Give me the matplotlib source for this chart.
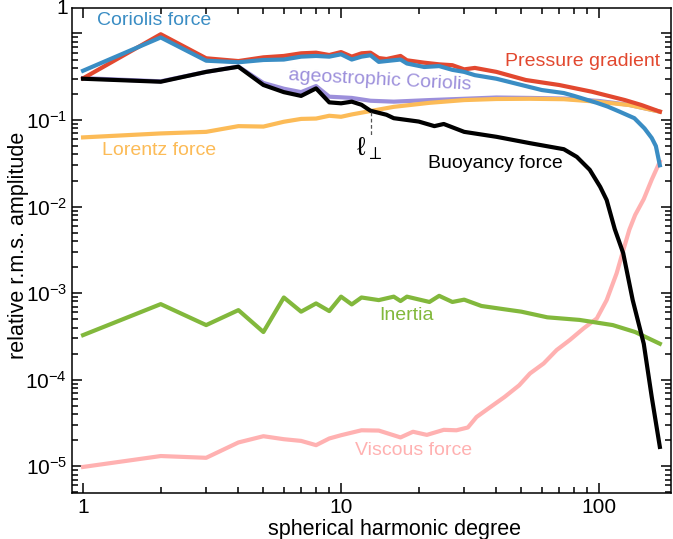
import matplotlib
matplotlib.use("Agg")
import matplotlib.pyplot as plt
from matplotlib.ticker import LogLocator, NullFormatter, FixedLocator

plt.rcParams['font.family'] = ['Liberation Sans', 'DejaVu Sans']
plt.rcParams['mathtext.default'] = 'regular'

# values (spherical harmonic degree l, relative r.m.s. amplitude)
coriolis_l = [1, 2, 3, 4, 5, 6, 7, 8, 9, 10, 11, 12, 13, 14, 17, 18, 21, 24, 27, 30, 33, 40,
              54, 60, 73, 80, 98, 108, 120, 137, 150, 160, 166, 172]
coriolis = [0.371, 0.90, 0.485, 0.465, 0.494, 0.50, 0.54, 0.55, 0.54, 0.575, 0.50, 0.54, 0.56,
            0.47, 0.50, 0.45, 0.41, 0.42, 0.38, 0.36, 0.33, 0.30,
            0.24, 0.222, 0.205, 0.19, 0.158, 0.143, 0.125, 0.105, 0.08, 0.062, 0.05, 0.030]

pressure_l = [1, 2, 3, 4, 5, 6, 7, 8, 9, 10, 11, 12, 13, 14, 15, 17, 18, 21, 24, 27, 30, 33, 40,
              52, 70, 94, 126, 146, 172]
pressure = [0.303, 0.98, 0.517, 0.48, 0.53, 0.55, 0.59, 0.60, 0.564, 0.61, 0.54, 0.59, 0.60,
            0.52, 0.507, 0.55, 0.49, 0.46, 0.44, 0.43, 0.385, 0.40, 0.36,
            0.29, 0.254, 0.212, 0.17, 0.149, 0.125]

ageo_l = [1, 2, 3, 4, 5, 6, 7, 8, 9, 10, 11, 13, 16, 22, 30, 40, 54, 73, 100, 130, 172]
ageo = [0.305, 0.28, 0.36, 0.415, 0.268, 0.23, 0.21, 0.247, 0.186, 0.183, 0.18, 0.167, 0.163,
        0.17, 0.176, 0.182, 0.18, 0.177, 0.166, 0.15, 0.125]

lorentz_l = [1, 2, 3, 4, 5, 6, 7, 8, 9, 10, 11, 13, 16, 22, 30, 40, 54, 73, 98, 131, 172]
lorentz = [0.063, 0.070, 0.073, 0.085, 0.084, 0.0955, 0.103, 0.104, 0.112, 0.109, 0.116, 0.127,
           0.142, 0.158, 0.17, 0.175, 0.176, 0.174, 0.163, 0.149, 0.125]

buoy_l = [1, 2, 3, 4, 5, 6, 7, 8, 9, 10, 11, 12, 13, 15, 16, 20, 23, 25, 30, 40, 54, 73, 82, 92,
          101, 107, 115, 124, 135, 149, 160, 172]
buoy = [0.30, 0.277, 0.36, 0.413, 0.254, 0.21, 0.19, 0.232, 0.16, 0.156, 0.163, 0.15, 0.128,
        0.115, 0.105, 0.096, 0.085, 0.09, 0.073, 0.064, 0.054, 0.046, 0.0375, 0.0266,
        0.0169, 0.0119, 5.5e-3, 2.9e-3, 8.3e-4, 2.6e-4, 6.3e-5, 1.67e-5]

inertia_l = [1, 2, 3, 4, 5, 6, 7, 8, 9, 10, 11, 12, 14, 16, 17, 18, 22, 24, 27, 30, 35, 43, 50,
             63, 84, 113, 138, 172]
inertia = [3.27e-4, 7.46e-4, 4.27e-4, 6.36e-4, 3.55e-4, 8.9e-4, 6.1e-4, 7.6e-4, 6.2e-4, 9.1e-4,
           7.4e-4, 8.9e-4, 8.3e-4, 9.1e-4, 8.1e-4, 9.1e-4, 7.9e-4, 9.3e-4, 7.9e-4, 8.4e-4,
           7.1e-4, 6.5e-4, 6.1e-4, 5.25e-4, 4.9e-4, 4.27e-4, 3.55e-4, 2.6e-4]

viscous_l = [1, 2, 3, 4, 5, 6, 7, 8, 9, 10, 12, 14, 17, 19, 21.5, 25, 28, 31, 33.5, 38, 43, 49,
             54, 61, 68.5, 77, 87, 98, 107, 117, 124, 131, 138, 149, 160, 172]
viscous = [9.8e-6, 1.31e-5, 1.25e-5, 1.88e-5, 2.22e-5, 2.05e-5, 1.96e-5, 1.75e-5, 2.09e-5,
           2.28e-5, 2.6e-5, 2.58e-5, 2.15e-5, 2.5e-5, 2.3e-5, 2.63e-5, 2.6e-5, 2.8e-5, 3.7e-5,
           4.85e-5, 6.3e-5, 8.6e-5, 1.18e-4, 1.54e-4, 2.2e-4, 2.87e-4, 3.9e-4, 5.1e-4, 8.3e-4,
           1.7e-3, 3.1e-3, 5.4e-3, 8.0e-3, 1.22e-2, 2.05e-2, 3.3e-2]

l_perp = 13.1
l_perp_span = [0.124, 0.0636]

red = "#e2482f"
blue = "#3a8dc4"
purple = "#9c8fdb"
orange = "#fcbb57"
green = "#82b83c"
pink = "#ffb1b1"

fig = plt.figure(figsize=(6.73, 5.39), dpi=100)
ax = fig.add_axes([72 / 673, 46 / 539, 599 / 673, 485 / 539])

lw = 3
ax.plot(viscous_l, viscous, color=pink, lw=lw, zorder=2)
ax.plot(ageo_l, ageo, color=purple, lw=lw, zorder=3)
ax.plot(lorentz_l, lorentz, color=orange, lw=lw, zorder=4)
ax.plot(pressure_l, pressure, color=red, lw=lw, zorder=5)
ax.plot(coriolis_l, coriolis, color=blue, lw=lw, zorder=6)
ax.plot(inertia_l, inertia, color=green, lw=lw, zorder=7)
ax.plot(buoy_l, buoy, color="black", lw=lw, zorder=8)
ax.plot([l_perp, l_perp], l_perp_span, color="#555555", lw=0.9, ls=(0, (3, 2)), zorder=9)

ax.set_xscale("log")
ax.set_yscale("log")
ax.set_xlim(0.906, 190)
ax.set_ylim(4.9e-6, 1.97)

fs = 14
ax.text(1.133, 1.41, "Coriolis force", color=blue, fontsize=fs, va="center")
ax.text(43.2, 0.475, "Pressure gradient", color=red, fontsize=fs, va="center")
ax.text(14.2, 0.29, "ageostrophic Coriolis", color=purple, fontsize=fs, ha="center",
        va="center", rotation=-3, rotation_mode="anchor")
ax.text(1.18, 0.0444, "Lorentz force", color=orange, fontsize=fs, va="center")
ax.text(21.7, 0.0317, "Buoyancy force", color="black", fontsize=fs, va="center")
ax.text(14.1, 5.45e-4, "Inertia", color=green, fontsize=fs, va="center")
ax.text(11.3, 1.5e-5, "Viscous force", color=pink, fontsize=fs, va="center")
ax.text(12.8, 0.046, r"$\ell_\perp$", fontsize=19, ha="center", va="center",
        math_fontfamily="cm")

ax.set_xticks([1, 10, 100])
ax.set_xticklabels(["1", "10", "100"])
ax.xaxis.set_minor_locator(LogLocator(base=10, subs=range(2, 10)))
ax.xaxis.set_minor_formatter(NullFormatter())

yt = [1e-5, 1e-4, 1e-3, 1e-2, 1e-1, 1]
ax.yaxis.set_major_locator(FixedLocator(yt))
ax.set_yticklabels([r"$10^{-5}$", r"$10^{-4}$", r"$10^{-3}$", r"$10^{-2}$", r"$10^{-1}$", ""])
ax.yaxis.set_minor_locator(LogLocator(base=10, subs=range(2, 10)))
ax.yaxis.set_minor_formatter(NullFormatter())
ax.text(-0.007, 1.0, "1", transform=ax.transAxes, ha="right", va="center", fontsize=15)

ax.tick_params(which="both", direction="in", top=True, right=True, width=1.1, labelsize=15)
ax.tick_params(which="major", length=7, pad=3.5)
ax.tick_params(which="minor", length=4.3)
for sp in ax.spines.values():
    sp.set_linewidth(1.1)

ax.set_xlabel("spherical harmonic degree", fontsize=15.5)
ax.set_ylabel("relative r.m.s. amplitude", fontsize=15.5)
ax.xaxis.set_label_coords(0.538, -0.053)
ax.yaxis.set_label_coords(-0.072, 0.511)

fig.savefig("out.png", dpi=100)
